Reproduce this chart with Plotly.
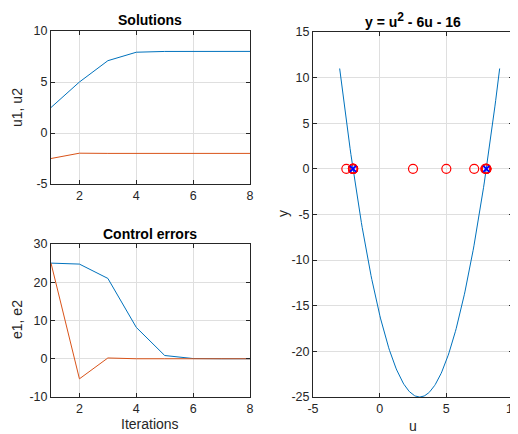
import numpy as np
import plotly.graph_objects as go

iterations = [1, 2, 3, 4, 5, 6, 7, 8]
u1 = [2.5, 5.0, 7.09, 7.92, 7.995, 8.0, 8.0, 8.0]
u2 = [-2.5, -1.98, -2.0, -2.0, -2.0, -2.0, -2.0, -2.0]
e1 = [25.0, 24.75, 21.0, 8.2, 0.85, 0.05, 0.0, 0.0]
e2 = [25.0, -5.25, 0.2, 0.0, 0.0, 0.0, 0.0, 0.0]
poly_coeffs = [1, -6, -16]
u_range = [-3, 9]
roots = [-2.0, 8.0]

iter_ticks = [2, 4, 6, 8]
sol_ticks = [-5, 0, 5, 10]
err_ticks = [-10, 0, 10, 20, 30]
u_ticks = [-5, 0, 5, 10]
y_ticks = [-25, -20, -15, -10, -5, 0, 5, 10, 15]

u_curve = np.linspace(u_range[0], u_range[1], 200)
y_curve = np.polyval(poly_coeffs, u_curve)
all_u = u1 + u2

BLUE = "#0072BD"
ORANGE = "#D95319"
AX = "#262626"
GRID = "#DFDFDF"
FONT = "Liberation Sans, Arial, sans-serif"

fig = go.Figure()
fig.add_trace(go.Scatter(x=iterations, y=u1, mode="lines", line=dict(color=BLUE, width=1), xaxis="x", yaxis="y"))
fig.add_trace(go.Scatter(x=iterations, y=u2, mode="lines", line=dict(color=ORANGE, width=1), xaxis="x", yaxis="y"))
fig.add_trace(go.Scatter(x=iterations, y=e1, mode="lines", line=dict(color=BLUE, width=1), xaxis="x2", yaxis="y2"))
fig.add_trace(go.Scatter(x=iterations, y=e2, mode="lines", line=dict(color=ORANGE, width=1), xaxis="x2", yaxis="y2"))
fig.add_trace(go.Scatter(x=u_curve, y=y_curve, mode="lines", line=dict(color=BLUE, width=1), xaxis="x3", yaxis="y3"))
fig.add_trace(go.Scatter(x=all_u, y=[0] * len(all_u), mode="markers",
                         marker=dict(symbol="circle-open", size=9, color="red", line=dict(width=1.2, color="red")),
                         xaxis="x3", yaxis="y3"))
fig.add_trace(go.Scatter(x=roots, y=[0] * len(roots), mode="markers",
                         marker=dict(symbol="x-thin-open", size=6, color="blue", line=dict(width=2, color="blue")),
                         xaxis="x3", yaxis="y3"))

# page body has an 8px margin: work in screen pixels and shift
OFF = 8
W, H = 518 - OFF, 434 - OFF
def xd(a, b):
    return [(a - OFF) / W, (b - OFF) / W]
def yd(top, bottom):
    return [(H - (bottom - OFF)) / H, (H - (top - OFF)) / H]

common = dict(showline=True, linecolor=AX, linewidth=1, mirror="ticks", ticks="inside", ticklen=4,
              tickcolor=AX, showgrid=True, gridcolor=GRID, gridwidth=1, zeroline=False, automargin=False,
              ticklabeloverflow="allow",
              tickfont=dict(family=FONT, size=12.5, color=AX))

def tk(vals):
    return dict(tickmode="array", tickvals=vals, ticktext=[str(v) for v in vals])

fig.update_layout(
    width=W, height=H, autosize=False, margin=dict(l=0, r=0, t=0, b=0, pad=0),
    paper_bgcolor="white", plot_bgcolor="white", showlegend=False,
    font=dict(family=FONT, color=AX),
    xaxis=dict(domain=xd(51, 250), anchor="y", range=[1, 8], **tk(iter_ticks), **common),
    yaxis=dict(domain=yd(31, 184), anchor="x", range=[-5, 10], **tk(sol_ticks), **common),
    xaxis2=dict(domain=xd(51, 250), anchor="y2", range=[1, 8], **tk(iter_ticks), **common),
    yaxis2=dict(domain=yd(244, 397), anchor="x2", range=[-10, 30], **tk(err_ticks), **common),
    xaxis3=dict(domain=xd(313, 513), anchor="y3", range=[-5, 10], **tk(u_ticks), **common),
    yaxis3=dict(domain=yd(32, 397), anchor="x3", range=[-25, 15], **tk(y_ticks), **common),
)

def ann(text, x, y, size=14, bold=False, angle=0):
    fig.add_annotation(text=("<b>%s</b>" % text) if bold else text, x=(x - OFF) / W, y=1 - (y - OFF) / H,
                       xref="paper", yref="paper", showarrow=False, textangle=angle,
                       font=dict(family=FONT, size=size, color="black" if bold else AX),
                       xanchor="center", yanchor="middle")

ann("Solutions", 150, 20, size=14, bold=True)
ann("Control errors", 150, 234, size=14, bold=True)
ann("y = u<sup><span style='font-size:12px'>2</span></sup> - 6u - 16", 413, 20, size=14, bold=True)
ann("u1, u2", 17, 108, angle=-90)
ann("e1, e2", 17, 320, angle=-90)
ann("y", 283, 214, angle=-90)
ann("Iterations", 150, 424)
ann("u", 413, 426)

fig.write_html("out.html")
